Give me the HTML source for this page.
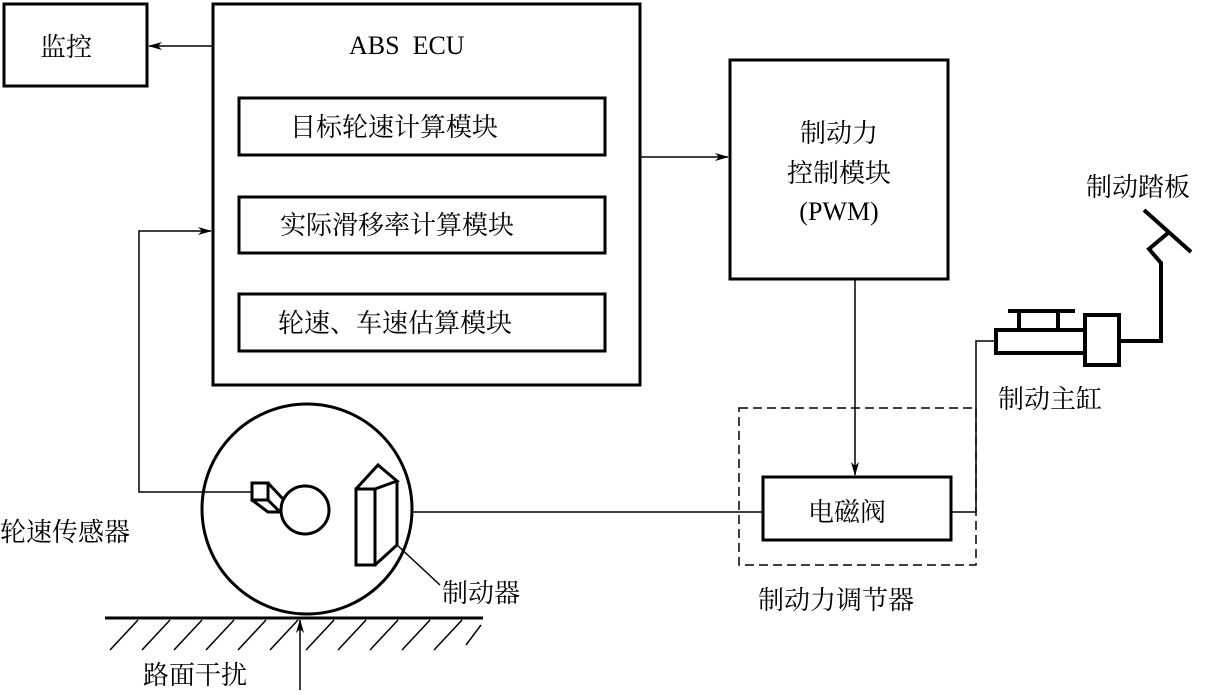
<!DOCTYPE html>
<html><head><meta charset="utf-8"><style>
html,body{margin:0;padding:0;background:#fff;}
svg text{font-family:"Liberation Serif","Noto Serif CJK SC",serif;fill:#000;}
</style></head><body>
<svg width="1209" height="690" viewBox="0 0 1209 690" xmlns="http://www.w3.org/2000/svg">
<defs><marker id="a" markerWidth="14" markerHeight="8" refX="13" refY="4" orient="auto" markerUnits="userSpaceOnUse"><path d="M0,0 L14,4 L0,8 L4,4 Z" fill="#000"/></marker></defs>
<g fill="none" stroke="#000" stroke-width="3">
<rect x="4" y="4" width="143" height="82"/>
<rect x="213" y="4" width="427" height="381"/>
<rect x="239" y="98" width="366" height="57"/>
<rect x="239" y="197" width="366" height="56"/>
<rect x="239" y="294" width="366" height="57"/>
<rect x="730" y="60" width="218" height="219"/>
<rect x="763" y="477" width="188" height="63"/>
<circle cx="307" cy="509" r="105"/>
<circle cx="305" cy="510" r="24"/>
<path d="M252,483 h16 v17 h-16 z M268,483 l16,17 M268,500 l12,12 h2 M252,500 l16,12 h14"/>
<path d="M356,489 h19 v76 h-19 z M356,489 l22,-24 l19,16 l-22,8 M397,481 v64 l-22,20"/>
<line x1="105" y1="618" x2="483" y2="618"/>
</g>
<g fill="none" stroke="#000" stroke-width="1.5">
<line x1="213" y1="46" x2="149" y2="46" marker-end="url(#a)"/>
<polyline points="252,492 139,492 139,231 211,231" marker-end="url(#a)"/>
<line x1="640" y1="157" x2="728" y2="157" marker-end="url(#a)"/>
<line x1="855" y1="279" x2="855" y2="475" marker-end="url(#a)"/>
<line x1="413" y1="512" x2="763" y2="512"/>
<polyline points="951,512 976,512 976,341 995,341"/>
<rect x="739" y="408" width="237" height="157" stroke-dasharray="9,5"/>
<line x1="397" y1="545" x2="440" y2="585"/>
<line x1="300" y1="690" x2="300" y2="620" marker-end="url(#a)"/>
<path d="M110,650 l28,-30 M142,650 l28,-30 M174,650 l28,-30 M206,650 l28,-30 M238,650 l28,-30 M270,650 l28,-30 M306,650 l28,-30 M338,650 l28,-30 M370,650 l28,-30 M402,650 l28,-30 M434,650 l28,-30 M466,645 l15,-20"/>
</g>
<g fill="none" stroke="#000" stroke-width="4">
<path d="M1008,311 h67 M1019,311 v19 M1058,311 v19"/>
<rect x="996" y="330" width="89" height="23"/>
<rect x="1085" y="315" width="34" height="50"/>
<polyline points="1119,341 1161,341 1161,263 1149,249 1168,233"/>
<line x1="1144" y1="210" x2="1191" y2="252"/>
</g>
<g font-size="26">
<text x="40" y="56">监控</text>
<text x="349" y="54">ABS&#160;&#160;ECU</text>
<text x="290" y="136">目标轮速计算模块</text>
<text x="280" y="234">实际滑移率计算模块</text>
<text x="278" y="332">轮速、车速估算模块</text>
<text x="839" y="142" text-anchor="middle">制动力</text>
<text x="839" y="182" text-anchor="middle">控制模块</text>
<text x="839" y="220" text-anchor="middle">(PWM)</text>
<text x="1086" y="196">制动踏板</text>
<text x="998" y="408">制动主缸</text>
<text x="808" y="521">电磁阀</text>
<text x="758" y="609">制动力调节器</text>
<text x="442" y="602">制动器</text>
<text x="0" y="541">轮速传感器</text>
<text x="143" y="684">路面干扰</text>
</g>
</svg>
</body></html>
